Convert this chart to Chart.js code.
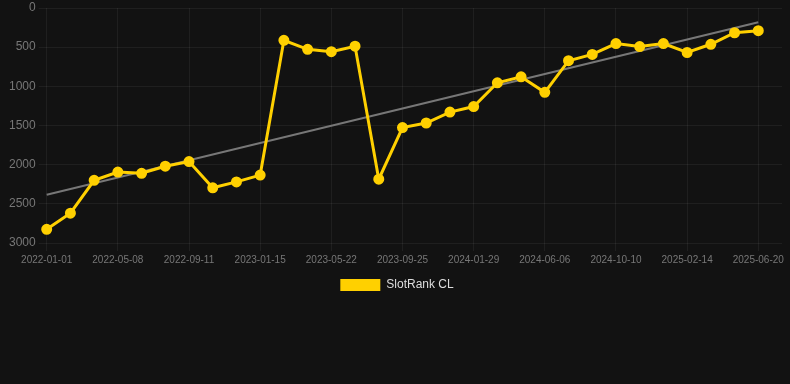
<!DOCTYPE html>
<html>
<head>
<meta charset="utf-8">
<script src="https://cdn.jsdelivr.net/npm/chart.js@4"></script>
<style>
  html, body { margin: 0; padding: 0; background: #121212; }
  #wrap { width: 790px; height: 301px; }
</style>
</head>
<body>
<div id="wrap"><canvas id="myChart"></canvas></div>
<script>
var dates = [
  '2022-01-01', '2022-02-12', '2022-03-26', '2022-05-08', '2022-06-19', '2022-07-31',
  '2022-09-11', '2022-10-23', '2022-12-04', '2023-01-15', '2023-02-26', '2023-04-09',
  '2023-05-22', '2023-07-03', '2023-08-14', '2023-09-25', '2023-11-06', '2023-12-18',
  '2024-01-29', '2024-03-11', '2024-04-23', '2024-06-06', '2024-07-18', '2024-08-29',
  '2024-10-10', '2024-11-21', '2025-01-02', '2025-02-14', '2025-03-28', '2025-05-09',
  '2025-06-20', ''
];
var rank = [
  2825, 2620, 2200, 2095, 2110, 2020, 1960, 2295, 2220, 2133,
  412, 528, 558, 488, 2185, 1527, 1468, 1329, 1258, 955,
  879, 1077, 673, 593, 454, 492, 454, 568, 463, 316, 290, null
];
// trend line end points
var trendStart = 2385;
var trendEnd = 181;
var trend = dates.map(function() { return null; });
trend[0] = trendStart;
trend[30] = trendEnd;

var yTicks = [0, 500, 1000, 1500, 2000, 2500, 3000];
var gridColor = 'rgba(255,255,255,0.06)';

var ctx = document.getElementById('myChart').getContext('2d');
new Chart(ctx, {
  type: 'line',
  data: {
    labels: dates,
    datasets: [{
      label: 'SlotRank CL',
      data: rank,
      borderColor: '#ffd000',
      backgroundColor: '#ffd000',
      borderWidth: 3,
      pointRadius: 4,
      pointHoverRadius: 5,
      tension: 0
    }, {
      label: 'trend',
      data: trend,
      borderColor: '#777777',
      borderWidth: 2,
      pointRadius: 0,
      spanGaps: true,
      fill: false
    }]
  },
  options: {
    responsive: true,
    maintainAspectRatio: false,
    animation: false,
    layout: { padding: { left: 6, right: 2 } },
    plugins: {
      legend: {
        position: 'bottom',
        labels: {
          color: '#dddddd',
          font: { size: 12 },
          boxWidth: 40,
          boxHeight: 12,
          generateLabels: function(chart) {
            var items = Chart.defaults.plugins.legend.labels.generateLabels(chart);
            items.forEach(function(it) { it.lineWidth = 0; });
            return items;
          },
          filter: function(item) { return item.text !== 'trend'; }
        }
      },
      tooltip: { enabled: false }
    },
    scales: {
      y: {
        reverse: true,
        min: yTicks[0],
        max: yTicks[yTicks.length - 1],
        ticks: {
          stepSize: 500,
          color: '#777777',
          font: { size: 12, lineHeight: 0.3 },
          callback: function(val) { return String(val); }
        },
        grid: { color: gridColor },
        border: { display: false }
      },
      x: {
        ticks: {
          color: '#777777',
          font: { size: 10 },
          autoSkip: false,
          maxRotation: 0,
          callback: function(val, i) { return i % 3 === 0 ? dates[i] : ''; }
        },
        grid: {
          color: function(c) { return c.index % 3 === 0 ? gridColor : 'transparent'; }
        },
        border: { display: false }
      }
    }
  }
});
</script>
</body>
</html>
